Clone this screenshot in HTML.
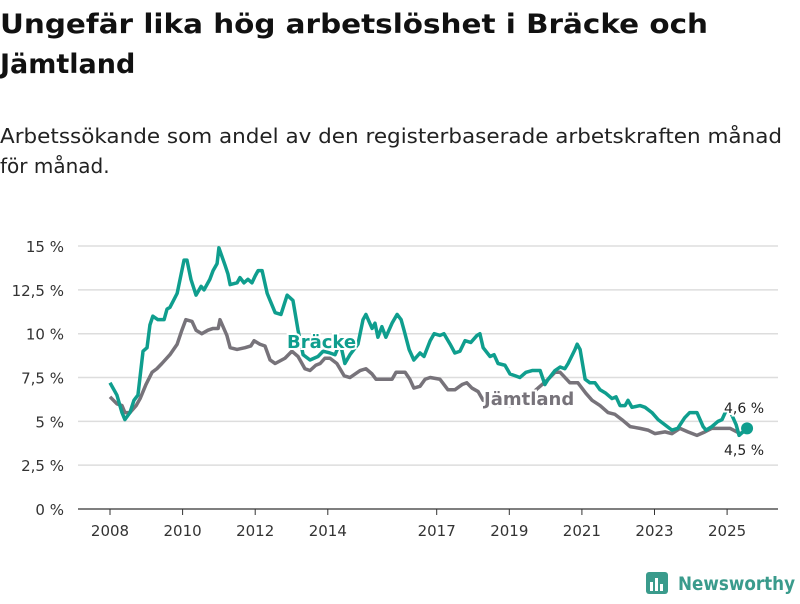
<!DOCTYPE html>
<html><head><meta charset="utf-8"><style>
body{margin:0;background:#fff;width:800px;height:600px;overflow:hidden;font-family:"DejaVu Sans","Liberation Sans",sans-serif}
svg text{font-family:"DejaVu Sans","Liberation Sans",sans-serif}
</style></head><body>
<svg width="800" height="600">
<text x="0" y="33" font-size="27" font-weight="bold" fill="#111" textLength="708" lengthAdjust="spacingAndGlyphs">Ungefär lika hög arbetslöshet i Bräcke och</text>
<text x="0" y="73" font-size="27" font-weight="bold" fill="#111">Jämtland</text>
<text x="0" y="143" font-size="20" fill="#222" textLength="782" lengthAdjust="spacingAndGlyphs">Arbetssökande som andel av den registerbaserade arbetskraften månad</text>
<text x="0" y="173" font-size="20" fill="#222">för månad.</text>
<g id="grid"></g><g id="xax"></g><g id="lines"></g>
<g>
<rect x="646" y="572" width="22" height="22" rx="3" fill="#3a9b8c"/>
<rect x="650" y="582" width="3" height="9" fill="#fff"/><rect x="655" y="578" width="3" height="13" fill="#fff"/><rect x="660" y="584" width="3" height="7" fill="#fff"/>
<text x="678" y="590" font-size="19" font-weight="bold" fill="#3a9b8c" textLength="117" lengthAdjust="spacingAndGlyphs">Newsworthy</text></g>
</svg>
<script>
const yTicks=[0,2.5,5,7.5,10,12.5,15];
const yTickLabels=["0 %","2,5 %","5 %","7,5 %","10 %","12,5 %","15 %"];
const xTicks=[2008,2010,2012,2014,2017,2019,2021,2023,2025];
const brYears=[2008.00,2008.19,2008.33,2008.41,2008.55,2008.66,2008.77,2008.91,2009.02,2009.10,2009.18,2009.32,2009.49,2009.57,2009.65,2009.85,2010.04,2010.12,2010.23,2010.37,2010.51,2010.59,2010.75,2010.84,2010.95,2011.00,2011.17,2011.25,2011.31,2011.50,2011.58,2011.69,2011.80,2011.91,2012.00,2012.08,2012.19,2012.33,2012.41,2012.55,2012.71,2012.88,2013.04,2013.18,2013.32,2013.51,2013.73,2013.87,2014.06,2014.20,2014.34,2014.47,2014.61,2014.83,2014.97,2015.05,2015.22,2015.30,2015.38,2015.49,2015.60,2015.77,2015.91,2016.02,2016.10,2016.24,2016.37,2016.54,2016.65,2016.82,2016.93,2017.09,2017.20,2017.37,2017.50,2017.64,2017.78,2017.94,2018.11,2018.19,2018.28,2018.47,2018.58,2018.69,2018.88,2019.02,2019.16,2019.29,2019.46,2019.63,2019.85,2019.98,2020.07,2020.26,2020.40,2020.53,2020.62,2020.81,2020.87,2020.95,2021.09,2021.22,2021.36,2021.50,2021.66,2021.83,2021.94,2022.05,2022.19,2022.27,2022.38,2022.60,2022.74,2022.93,2023.10,2023.29,2023.48,2023.64,2023.83,2023.97,2024.17,2024.34,2024.42,2024.58,2024.75,2024.86,2024.97,2025.08,2025.25,2025.33,2025.44,2025.55];
const brValues=[7.2,6.5,5.5,5.1,5.5,6.2,6.5,9.0,9.2,10.5,11.0,10.8,10.8,11.4,11.5,12.3,14.2,14.2,13.1,12.2,12.7,12.5,13.1,13.6,14.0,14.9,13.9,13.4,12.8,12.9,13.2,12.9,13.1,12.9,13.3,13.6,13.6,12.3,11.9,11.2,11.1,12.2,11.9,10.2,8.8,8.5,8.7,9.0,8.9,8.8,9.5,8.3,8.8,9.4,10.8,11.1,10.3,10.6,9.8,10.4,9.8,10.6,11.1,10.8,10.2,9.1,8.5,8.9,8.7,9.6,10.0,9.9,10.0,9.4,8.9,9.0,9.6,9.5,9.9,10.0,9.2,8.7,8.8,8.3,8.2,7.7,7.6,7.5,7.8,7.9,7.9,7.1,7.4,7.9,8.1,8.0,8.3,9.1,9.4,9.1,7.4,7.2,7.2,6.8,6.6,6.3,6.4,5.9,5.9,6.2,5.8,5.9,5.8,5.5,5.1,4.8,4.5,4.6,5.2,5.5,5.5,4.7,4.5,4.7,5.0,5.1,5.6,5.6,4.8,4.2,4.4,4.6];
const jaYears=[2008.00,2008.19,2008.33,2008.41,2008.55,2008.72,2008.83,2008.99,2009.16,2009.29,2009.43,2009.65,2009.85,2009.98,2010.09,2010.26,2010.37,2010.53,2010.70,2010.84,2010.98,2011.03,2011.22,2011.31,2011.50,2011.72,2011.88,2011.97,2012.13,2012.27,2012.41,2012.55,2012.82,2013.01,2013.18,2013.37,2013.51,2013.67,2013.79,2013.92,2014.06,2014.25,2014.45,2014.61,2014.89,2015.05,2015.22,2015.33,2015.58,2015.77,2015.88,2016.13,2016.26,2016.37,2016.54,2016.68,2016.82,2017.09,2017.31,2017.50,2017.70,2017.83,2017.97,2018.14,2018.28,2019.02,2019.57,2020.07,2020.26,2020.40,2020.67,2020.89,2021.11,2021.28,2021.50,2021.72,2021.91,2022.10,2022.33,2022.60,2022.82,2023.01,2023.29,2023.48,2023.70,2023.92,2024.17,2024.39,2024.58,2024.80,2025.08,2025.36,2025.55];
const jaValues=[6.4,6.0,5.9,5.5,5.5,5.9,6.3,7.1,7.8,8.0,8.3,8.8,9.4,10.2,10.8,10.7,10.2,10.0,10.2,10.3,10.3,10.8,9.9,9.2,9.1,9.2,9.3,9.6,9.4,9.3,8.5,8.3,8.6,9.0,8.7,8.0,7.9,8.2,8.3,8.6,8.6,8.3,7.6,7.5,7.9,8.0,7.7,7.4,7.4,7.4,7.8,7.8,7.4,6.9,7.0,7.4,7.5,7.4,6.8,6.8,7.1,7.2,6.9,6.7,6.2,5.9,6.5,7.4,7.8,7.8,7.2,7.2,6.6,6.2,5.9,5.5,5.4,5.1,4.7,4.6,4.5,4.3,4.4,4.3,4.6,4.4,4.2,4.4,4.6,4.6,4.6,4.3,4.5];
const NS="http://www.w3.org/2000/svg";
const xs=y=>110+(y-2008)*36.3, ys=v=>509-v*17.53;
function mk(t,a,p){const e=document.createElementNS(NS,t);for(const k in a)e.setAttribute(k,a[k]);p.appendChild(e);return e;}
const g=document.getElementById('grid'),xa=document.getElementById('xax'),L=document.getElementById('lines');
yTicks.forEach((v,i)=>{
 const l=mk('line',{x1:78,x2:778,y1:ys(v),y2:ys(v),stroke:v===0?'#333':'#ddd','stroke-width':v===0?1.2:1.5},g);
 
 
 const t=mk('text',{x:64,y:ys(v)+6,'text-anchor':'end','font-size':15,fill:'#333'},g);
 
 
 t.textContent=yTickLabels[i];
});
xTicks.forEach(y=>{
 const l=mk('line',{x1:xs(y),x2:xs(y),y1:509,y2:515,stroke:'#333'},xa);
 
 
 const t=mk('text',{x:xs(y),y:536,'text-anchor':'middle','font-size':15,fill:'#333'},xa);
 
 
 t.textContent=y;
});
function line(X,V,c,n){
 const p=mk('polyline',{points:X.map((x,i)=>xs(x)+','+ys(V[i])).join(' '),fill:'none',stroke:c,'stroke-width':3.5,'stroke-linejoin':'round'},L);
 
 
}
line(jaYears,jaValues,'#77737a','jamtland-line');
line(brYears,brValues,'#0f9e8e','bracke-line');
function lab(x,y,s,c,n,w,sz){
 const t=mk('text',{x,y,'font-size':sz,'font-weight':w,fill:c,stroke:'#fff','stroke-width':4,'paint-order':'stroke'},L);
 
 
 t.textContent=s;
}
lab(287,348,'Bräcke','#0f9e8e','bracke-label','bold',18);
lab(484,405,'Jämtland','#77737a','jamtland-label','bold',18);
const lb=brValues.length-1,lj=jaValues.length-1;
const d=mk('circle',{cx:xs(brYears[lb]),cy:ys(brValues[lb]),r:6,fill:'#0f9e8e'},L);


lab(724,413,brValues[lb].toFixed(1).replace('.',',')+' %','#222','bracke-end-value','normal',14);
lab(724,455,jaValues[lj].toFixed(1).replace('.',',')+' %','#222','jamtland-end-value','normal',14);
</script>
</body></html>
